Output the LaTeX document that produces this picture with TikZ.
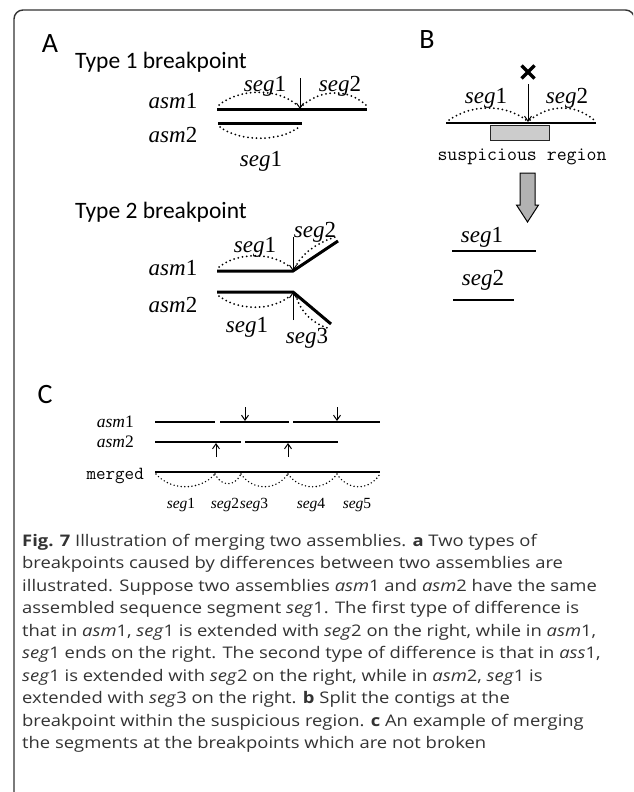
\documentclass[tikz,border=0pt]{standalone}
\usepackage{fontspec}
\newfontfamily\capfont[FakeStretch=1.15]{Open Sans}
\newfontfamily\labfont{Carlito}
\newfontfamily\lblfont{Liberation Serif}
\usetikzlibrary{arrows.meta}
\definecolor{captxt}{HTML}{333333}
\newcommand{\ml}[2]{{\itshape #1}#2}
\tikzset{
  segline/.style={line width=3pt},
  segthin/.style={line width=2.6pt},
  dotarc/.style={line width=2pt, dash pattern=on 0pt off 4.3pt, line cap=round},
  dotsmall/.style={line width=1.6pt, dash pattern=on 0pt off 3.6pt, line cap=round},
  brk/.style={line width=1pt, -{Straight Barb[length=5pt,width=7pt]}},
  mlab/.style={font=\lblfont\fontsize{23}{23}\selectfont, inner sep=0pt},
  mlabc/.style={font=\lblfont\fontsize{17.5}{17.5}\selectfont, inner sep=0pt},
  slabc/.style={font=\lblfont\fontsize{15.5}{15.5}\selectfont, inner sep=0pt},
  panel/.style={font=\labfont\fontsize{28}{28}\selectfont, inner sep=0pt},
  heading/.style={font=\labfont\fontsize{23.5}{23.5}\selectfont, inner sep=0pt, anchor=west},
  capline/.style={font=\capfont\fontsize{16}{16}\selectfont, text=captxt, inner sep=0pt, anchor=base west},
}
\begin{document}
\begin{tikzpicture}[x=1pt,y=-1pt]
\useasboundingbox (0,0) rectangle (633,792);
\clip (0,0) rectangle (633,792);
\fill[white] (0,0) rectangle (633,792);
\draw[line width=1.4pt, color=black!80, rounded corners=9pt] (14,830) -- (14,10) -- (634.5,10) -- (634.5,830);

% ---------- Panel A ----------
\node[panel] (labA) at (50,44) {A};
\node[heading] (t1) at (75,62) {Type 1 breakpoint};
\node[mlab] (a1l) at (173,101) {\ml{asm}{1}};
\node[mlab] (a2l) at (173,135) {\ml{asm}{2}};
\coordinate (a1s) at (217,109);
\coordinate (a1e) at (367,109);
\coordinate (bp1) at (300,109);
\coordinate (bp1top) at (300,78);
\draw[segline] (a1s) -- (a1e);
\draw[brk] (bp1top) -- (bp1);
\draw[dotarc] (219,105) .. controls (240,88) and (278,88) .. (297,105);
\draw[dotarc] (303,105) .. controls (322,89) and (348,89) .. (366,105);
\node[mlab] (s1a) at (265,86) {\ml{seg}{1}};
\node[mlab] (s2a) at (340,86) {\ml{seg}{2}};
\coordinate (a2s) at (218,123);
\coordinate (a2e) at (302,123);
\draw[segline] (a2s) -- (a2e);
\draw[dotarc] (220,127) .. controls (240,142) and (280,142) .. (299,127);
\node[mlab] (s1b) at (261,161) {\ml{seg}{1}};

% Type 2
\node[heading] (t2) at (75,212) {Type 2 breakpoint};
\node[mlab] (b1l) at (173,268) {\ml{asm}{1}};
\node[mlab] (b2l) at (173,305) {\ml{asm}{2}};
\coordinate (b1s) at (217,271);
\coordinate (bp2) at (293,271);
\coordinate (b1e) at (338,241);
\draw[segline, line join=miter] (b1s) -- (bp2) -- (b1e);
\coordinate (bp2top) at (293,237);
\draw[brk] (bp2top) -- (bp2);
\draw[dotarc] (219,267) .. controls (238,252) and (272,252) .. (290,267);
\draw[dotarc] (297,264) .. controls (305,251) and (318,243) .. (335,237);
\node[mlab] (s1c) at (255,247) {\ml{seg}{1}};
\node[mlab] (s2c) at (315,232) {\ml{seg}{2}};
\coordinate (b2s) at (217,292);
\coordinate (bp3) at (293,292);
\coordinate (b2e) at (331,324);
\draw[segline, line join=miter] (b2s) -- (bp3) -- (b2e);
\coordinate (bp3bot) at (293,320);
\draw[brk] (bp3bot) -- (bp3);
\draw[dotarc] (219,296) .. controls (238,311) and (272,311) .. (290,296);
\draw[dotarc] (297,299) .. controls (302,314) and (315,325) .. (331,329);
\node[mlab] (s1d) at (247,327) {\ml{seg}{1}};
\node[mlab] (s3d) at (307,338) {\ml{seg}{3}};

% ---------- Panel B ----------
\node[panel] (labB) at (427,40) {B};
\draw[line width=3.4pt] (521.5,65.5) -- (534.5,78.5) (534.5,65.5) -- (521.5,78.5);
\coordinate (xm) at (528,84);
\coordinate (bpB) at (528,122);
\draw[brk] (xm) -- (bpB);
\draw[segthin] (446,123) -- (596,123);
\node[draw=black!85, fill=black!20, line width=1pt, minimum width=59pt, minimum height=15pt, inner sep=0pt, anchor=north west] (susp) at (490,124.5) {};
\draw[dotarc] (449,120) .. controls (472,104) and (505,104) .. (526,120);
\draw[dotarc] (530,120) .. controls (550,104) and (575,104) .. (594,120);
\node[mlab] (s1B) at (486,98) {\ml{seg}{1}};
\node[mlab] (s2B) at (567,98) {\ml{seg}{2}};
\node[font=\ttfamily\fontsize{19.3}{19.3}\selectfont, inner sep=0pt] (suspl) at (522,157) {suspicious region};
\draw[line width=1pt, fill=black!30] (520,173) -- (535,173) -- (535,205) -- (538.5,205) -- (527.5,222) -- (516.5,205) -- (520,205) -- cycle;
\node[mlab] (s1o) at (482,237) {\ml{seg}{1}};
\draw[segthin] (452,251) -- (536,251);
\node[mlab] (s2o) at (483,280) {\ml{seg}{2}};
\draw[segthin] (453,300) -- (514,300);

% ---------- Panel C ----------
\node[panel] (labC) at (45,395) {C};
\node[mlabc, anchor=east] (c1l) at (134,422) {\ml{asm}{1}};
\node[mlabc, anchor=east] (c2l) at (134,442) {\ml{asm}{2}};
\node[font=\ttfamily\fontsize{18.5}{18.5}\selectfont, inner sep=0pt, anchor=east] (cml) at (144,476) {merged};
\draw[segthin] (155,422) -- (215,422);
\draw[segthin] (220,422) -- (289,422);
\draw[segthin] (293,422) -- (380,422);
\draw[brk] (245,407) -- (245,421);
\draw[brk] (337,407) -- (337,421);
\draw[segthin] (155,442) -- (241,442);
\draw[segthin] (245,442) -- (338,442);
\draw[brk] (216,457) -- (216,443);
\draw[brk] (288,457) -- (288,443);
\draw[segthin] (155,472) -- (380,472);
\foreach \a/\b/\d in {156/215/491, 215/241/487, 241/288/491, 288/337/491, 337/380/491}{
  \draw[dotsmall] (\a,474) .. controls ({\a+(\b-\a)*0.25},\d) and ({\a+(\b-\a)*0.75},\d) .. (\b,474);
}
\node[slabc] (cs1) at (181,505) {\ml{seg}{1}};
\node[slabc] (cs2) at (225,505) {\ml{seg}{2}};
\node[slabc] (cs3) at (254,505) {\ml{seg}{3}};
\node[slabc] (cs4) at (311,505) {\ml{seg}{4}};
\node[slabc] (cs5) at (357,505) {\ml{seg}{5}};

% ---------- Caption ----------
\node[capline] (c1) at (22,546) {\textbf{Fig. 7} Illustration of merging two assemblies. \textbf{a} Two types of};
\node[capline] (c2) at (22,568.5) {breakpoints caused by differences between two assemblies are};
\node[capline] (c3) at (22,591) {illustrated. Suppose two assemblies \textit{asm}1 and \textit{asm}2 have the same};
\node[capline] (c4) at (22,613.5) {assembled sequence segment \textit{seg}1. The first type of difference is};
\node[capline] (c5) at (22,636) {that in \textit{asm}1, \textit{seg}1 is extended with \textit{seg}2 on the right, while in \textit{asm}1,};
\node[capline] (c6) at (22,658.5) {\textit{seg}1 ends on the right. The second type of difference is that in \textit{ass}1,};
\node[capline] (c7) at (22,681) {\textit{seg}1 is extended with \textit{seg}2 on the right, while in \textit{asm}2, \textit{seg}1 is};
\node[capline] (c8) at (22,703.5) {extended with \textit{seg}3 on the right. \textbf{b} Split the contigs at the};
\node[capline] (c9) at (22,726) {breakpoint within the suspicious region. \textbf{c} An example of merging};
\node[capline] (c10) at (22,748.5) {the segments at the breakpoints which are not broken};
\end{tikzpicture}
\end{document}
